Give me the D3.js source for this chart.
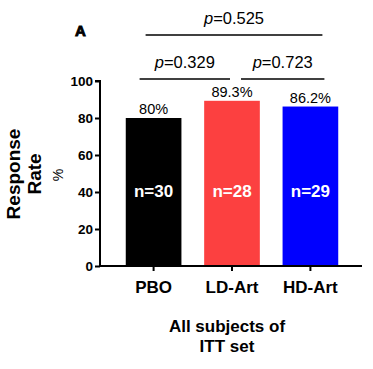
<!DOCTYPE html>
<html>
<head>
<meta charset="utf-8">
<script src="https://cdn.jsdelivr.net/npm/d3@7"></script>
<style>
  body { margin: 0; background: #fff; }
  svg { font-family: "Liberation Sans", Arial, sans-serif; display: block; }
</style>
</head>
<body>
<div class="chart"></div>
<script>
const groups = ['PBO', 'LD-Art', 'HD-Art'];
const rates = [80, 89.3, 86.2];
const rateLabels = ['80%', '89.3%', '86.2%'];
const counts = ['n=30', 'n=28', 'n=29'];
const colors = ['#000000', '#fc4040', '#0000ff'];
const yTicks = [0, 20, 40, 60, 80, 100];
const comparisons = [
  { from: 0, to: 1, p: '0.329', level: 0, padL: -14, padR: -2 },
  { from: 1, to: 2, p: '0.723', level: 0, padL: 9, padR: 14 },
  { from: 0, to: 2, p: '0.525', level: 1, padL: -8, padR: 12 }
];

const w = 373;
const h = 369;

const svg = d3.select('.chart')
  .append('svg')
  .attr('width', w)
  .attr('height', h);

const xScale = d3.scaleBand()
  .domain(groups)
  .range([114, 350])
  .paddingInner(0.29)
  .paddingOuter(0.15);

const yScale = d3.scaleLinear()
  .domain([0, 100])
  .range([266, 81]);

const center = (d) => xScale(d) + xScale.bandwidth() / 2;

// y axis
const yAxis = svg.append('g')
  .attr('transform', 'translate(100, 0)')
  .call(d3.axisLeft(yScale).tickValues(yTicks).tickSize(5).tickPadding(2));
yAxis.select('.domain').attr('stroke-width', 2).attr('d', `M-5,${yScale(100)}H0V${yScale(0)}`);
yAxis.selectAll('.tick line').attr('stroke-width', 2);
yAxis.selectAll('.tick text')
  .attr('font-size', 13.5)
  .attr('font-weight', 'bold')
  .attr('font-family', '"Liberation Sans", Arial, sans-serif')
  .attr('fill', '#000');

// bars
svg.selectAll('rect.bar')
  .data(groups)
  .enter()
  .append('rect')
  .attr('class', 'bar')
  .attr('x', (d) => xScale(d))
  .attr('y', (d, i) => yScale(rates[i]))
  .attr('width', xScale.bandwidth())
  .attr('height', (d, i) => yScale(0) - yScale(rates[i]))
  .attr('fill', (d, i) => colors[i]);

// x axis
const xAxis = svg.append('g')
  .attr('transform', `translate(0, ${yScale(0)})`)
  .call(d3.axisBottom(xScale).tickSize(5).tickPadding(10));
xAxis.select('.domain').attr('stroke-width', 2).attr('d', `M100,0H362`);
xAxis.selectAll('.tick line').attr('stroke-width', 2);
xAxis.selectAll('.tick text')
  .attr('font-size', 17)
  .attr('font-weight', 'bold')
  .attr('font-family', '"Liberation Sans", Arial, sans-serif')
  .attr('fill', '#000');

// value labels above bars
svg.selectAll('text.value')
  .data(groups)
  .enter()
  .append('text')
  .attr('class', 'value')
  .attr('x', center)
  .attr('y', (d, i) => yScale(rates[i]) - 4)
  .attr('text-anchor', 'middle')
  .attr('font-size', 14.5)
  .text((d, i) => rateLabels[i]);

// n labels inside bars
svg.selectAll('text.count')
  .data(groups)
  .enter()
  .append('text')
  .attr('class', 'count')
  .attr('x', center)
  .attr('y', yScale(40) + 5)
  .attr('text-anchor', 'middle')
  .attr('font-size', 17)
  .attr('font-weight', 'bold')
  .attr('fill', '#fff')
  .text((d, i) => counts[i]);

// significance brackets
const lineY = [79, 35];
comparisons.forEach((c) => {
  const a = center(groups[c.from]) + c.padL;
  const b = center(groups[c.to]) + c.padR;
  svg.append('line')
    .attr('x1', a)
    .attr('x2', b)
    .attr('y1', lineY[c.level])
    .attr('y2', lineY[c.level])
    .attr('stroke', '#000')
    .attr('stroke-width', 1.5);
  const t = svg.append('text')
    .attr('x', (a + b) / 2)
    .attr('y', lineY[c.level] - 11)
    .attr('text-anchor', 'middle')
    .attr('font-size', 16.5);
  t.append('tspan').attr('font-style', 'italic').text('p');
  t.append('tspan').text('=' + c.p);
});

// panel letter
svg.append('text')
  .attr('x', 75)
  .attr('y', 36)
  .attr('font-size', 15)
  .attr('font-weight', 'bold')
  .attr('stroke', '#000')
  .attr('stroke-width', 0.9)
  .text('A');

// y axis title
const yTitle = svg.append('text')
  .attr('transform', 'translate(0, 174) rotate(-90)')
  .attr('text-anchor', 'middle')
  .attr('font-size', 19)
  .attr('font-weight', 'bold');
yTitle.append('tspan').attr('x', 0).attr('y', 20).text('Response');
yTitle.append('tspan').attr('x', 0).attr('y', 41).text('Rate');
svg.append('text')
  .attr('transform', 'translate(63, 175) rotate(-90)')
  .attr('text-anchor', 'middle')
  .attr('font-size', 14)
  .text('%');

// x axis title
const xTitle = svg.append('text')
  .attr('text-anchor', 'middle')
  .attr('font-size', 17)
  .attr('font-weight', 'bold');
xTitle.append('tspan').attr('x', 227).attr('y', 332).text('All subjects of');
xTitle.append('tspan').attr('x', 227).attr('y', 352).text('ITT set');
</script>
</body>
</html>
